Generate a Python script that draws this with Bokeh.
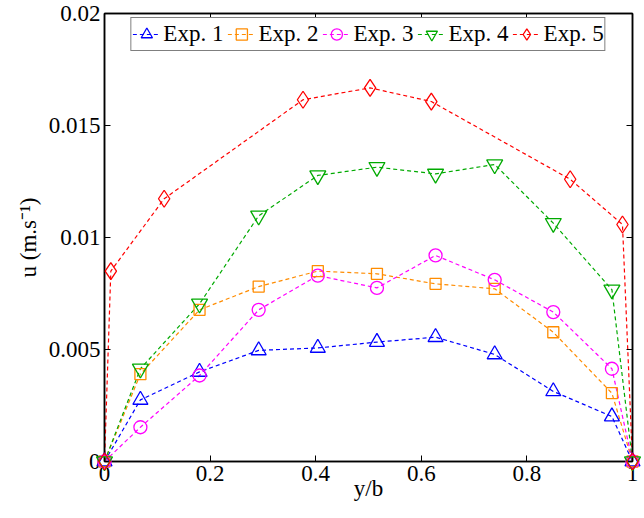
from bokeh.plotting import figure
from bokeh.models import Range1d, FixedTicker, LinearAxis, Legend
from bokeh.embed import file_html
from bokeh.resources import INLINE

# ---- data ----
x_grid = [0.0, 0.068, 0.18, 0.292, 0.404, 0.516, 0.627, 0.739, 0.85, 0.961, 1.0]
exp1 = [0.0, 0.00275, 0.0040, 0.00496, 0.00507, 0.00533, 0.00555, 0.00478, 0.00313, 0.00201, 0.0]
exp2 = [0.0, 0.0039, 0.00677, 0.00781, 0.0085, 0.00838, 0.00793, 0.00771, 0.00577, 0.00305, 0.0]
exp3 = [0.0, 0.00153, 0.00384, 0.00677, 0.0083, 0.00775, 0.0092, 0.00811, 0.00667, 0.00414, 0.0]
exp4 = [0.0, 0.00414, 0.00704, 0.01097, 0.01277, 0.01314, 0.01284, 0.01326, 0.01064, 0.00767, 0.0]
x5 = [0.0, 0.012, 0.113, 0.376, 0.503, 0.619, 0.882, 0.981, 1.0]
exp5 = [0.0, 0.0085, 0.01173, 0.01615, 0.01668, 0.01607, 0.0126, 0.01058, 0.0]

series_names = ["Exp. 1", "Exp. 2", "Exp. 3", "Exp. 4", "Exp. 5"]

x_ticks = [0, 0.2, 0.4, 0.6, 0.8, 1]
x_tick_labels = ["0", "0.2", "0.4", "0.6", "0.8", "1"]
y_ticks = [0, 0.005, 0.01, 0.015, 0.02]
y_tick_labels = ["0", "0.005", "0.01", "0.015", "0.02"]

FONT = "Liberation Serif"
FS = "23px"

p = figure(width=644, height=518, output_backend="svg", toolbar_location=None,
           x_range=Range1d(0, 1), y_range=Range1d(0, 0.02),
           min_border_left=104, min_border_right=12, min_border_top=13, min_border_bottom=57)
p.grid.visible = False
p.background_fill_color = "white"
p.border_fill_color = "white"
p.outline_line_color = "black"
p.outline_line_width = 1.5

for ax, ticks, labels in ((p.xaxis[0], x_ticks, x_tick_labels), (p.yaxis[0], y_ticks, y_tick_labels)):
    ax.ticker = FixedTicker(ticks=ticks)
    ax.major_label_overrides = {t: l for t, l in zip(ticks, labels)}
    ax.major_label_text_font = FONT
    ax.major_label_text_font_size = FS
    ax.major_label_text_color = "black"
    ax.major_tick_in = 6
    ax.major_tick_out = 0
    ax.minor_tick_line_color = None
    ax.axis_line_width = 1.5
    ax.major_tick_line_width = 1
    ax.axis_label_text_font = FONT
    ax.axis_label_text_font_size = FS
    ax.axis_label_text_font_style = "normal"
    ax.axis_label_text_color = "black"

p.xaxis[0].axis_label = "y/b"
p.xaxis[0].major_label_standoff = 4
p.xaxis[0].axis_label_standoff = -8
p.yaxis[0].axis_label = "u (m.s\u207b\u00b9)"
p.yaxis[0].major_label_standoff = 4
p.yaxis[0].axis_label_standoff = 5

# mirrored axes (ticks only) on top and right
for loc, ticks in (("above", x_ticks), ("right", y_ticks)):
    a = LinearAxis(ticker=FixedTicker(ticks=ticks), major_label_text_font_size="0px",
                   major_label_standoff=0, major_tick_in=6, major_tick_out=0,
                   minor_tick_line_color=None, axis_line_width=1.5)
    p.add_layout(a, loc)

colors = ["#0000ff", "#ff8c00", "#ff00ff", "#00aa00", "#ff0000"]
markers = ["triangle", "square", "circle", "inverted_triangle", "diamond"]
sizes = [15, 11, 13, 16, 17]
xs = [x_grid, x_grid, x_grid, x_grid, x5]
ys = [exp1, exp2, exp3, exp4, exp5]

items = []
for name, c, m, s, xv, yv in zip(series_names, colors, markers, sizes, xs, ys):
    r1 = p.line(xv, yv, line_color=c, line_dash="4 3", line_width=1.2)
    r2 = p.scatter(xv, yv, marker=m, size=s, line_color=c, fill_color=None, line_width=1.3,
                   level="overlay")
    items.append((name, [r1, r2]))

leg = Legend(items=items, orientation="horizontal", location="top_center",
             label_text_font=FONT, label_text_font_size=FS, label_text_color="black",
             glyph_width=28, glyph_height=30, label_standoff=3, spacing=4, padding=1,
             margin=4, border_line_color="black", border_line_width=1.5,
             background_fill_alpha=1.0, label_height=20)
p.add_layout(leg, "center")

open("out.html", "w").write(file_html(p, INLINE))
